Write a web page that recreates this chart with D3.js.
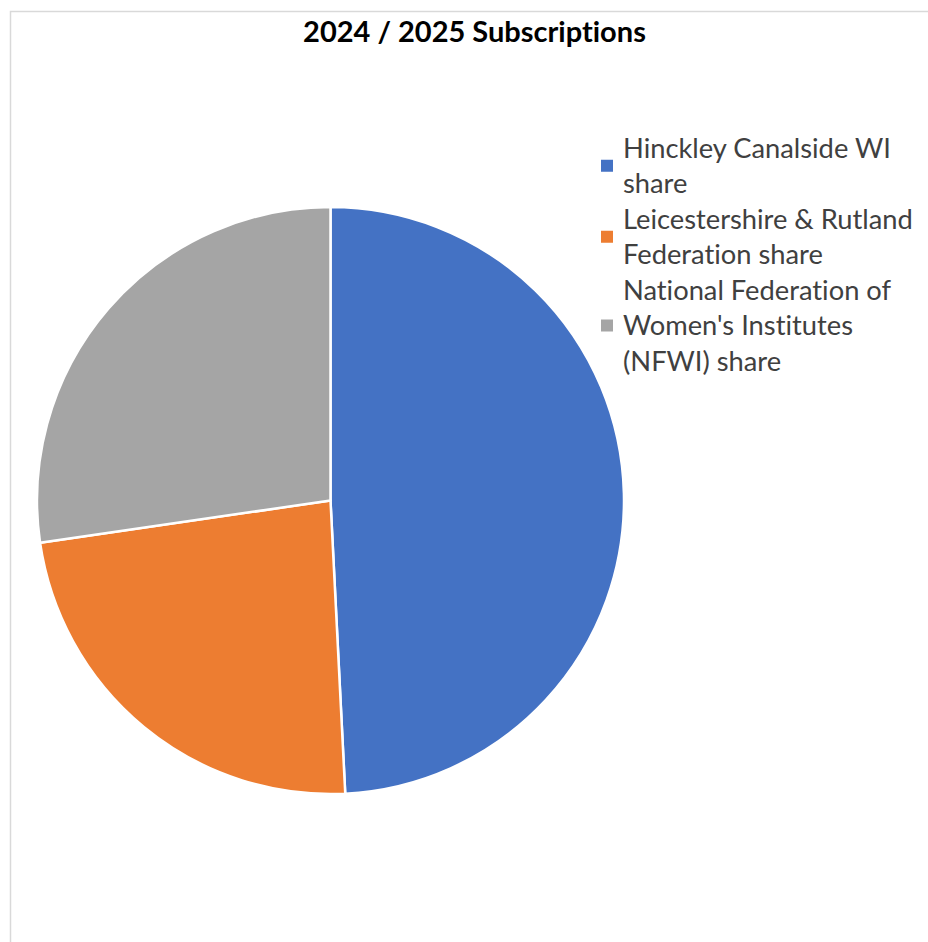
<!DOCTYPE html>
<html>
<head>
<meta charset="utf-8">
<script src="https://cdn.jsdelivr.net/npm/d3@7"></script>
<style>
  html, body { margin: 0; padding: 0; background: #fff; }
  svg { display: block; }
  text { font-variant-ligatures: none; font-feature-settings: "liga" 0, "clig" 0; }
</style>
</head>
<body>
<svg id="chart" width="928" height="942"></svg>
<script>
const title = "2024 / 2025 Subscriptions";
const categories = [
  "Hinckley Canalside WI share",
  "Leicestershire & Rutland Federation share",
  "National Federation of Women's Institutes (NFWI) share"
];
const legendLines = [
  ["Hinckley Canalside WI", "share"],
  ["Leicestershire & Rutland", "Federation share"],
  ["National Federation of", "Women's Institutes", "(NFWI) share"]
];
const values = [49.2, 23.5, 27.3];
const colors = ["#4472C4", "#ED7D31", "#A5A5A5"];

const svg = d3.select("#chart");
const W = 928, H = 942;
const fontFamily = "Lato, 'Open Sans', 'Liberation Sans', sans-serif";

// chart area border (top and left visible)
svg.append("path")
  .attr("d", `M10.5,${H} L10.5,11.5 L${W},11.5`)
  .attr("fill", "none")
  .attr("stroke", "#d9d9d9")
  .attr("stroke-width", 1.5);

// helper to fit a text to a target width
function fitSize(text, weight, targetWidth) {
  const t = svg.append("text").attr("font-family", fontFamily)
    .attr("font-weight", weight).attr("font-size", 100).text(text);
  const w = t.node().getComputedTextLength();
  t.remove();
  return 100 * targetWidth / w;
}

// title
const titleSize = fitSize(title, "bold", 343);
svg.append("text")
  .attr("x", 474.5).attr("y", 41.5)
  .attr("text-anchor", "middle")
  .attr("font-family", fontFamily)
  .attr("font-weight", "bold")
  .attr("font-size", titleSize)
  .attr("fill", "#000")
  .text(title);

// pie
const cx = 330.5, cy = 500.5, r = 293.5;
const pie = d3.pie().sort(null).value(d => d)(values);
const arc = d3.arc().innerRadius(0).outerRadius(r);
const color = d3.scaleOrdinal().domain(d3.range(values.length)).range(colors);

svg.append("g")
  .attr("transform", `translate(${cx},${cy})`)
  .selectAll("path")
  .data(pie)
  .join("path")
  .attr("d", arc)
  .attr("fill", (d, i) => color(i))
  .attr("stroke", "#fff")
  .attr("stroke-width", 2.5)
  .attr("stroke-linejoin", "round");

// legend
const legSize = fitSize("Leicestershire & Rutland", "normal", 290);
const lineH = 35.5;
const firstLineY = 148; // center of first line
const legend = svg.append("g");
let lineIdx = 0;
legendLines.forEach((lines, i) => {
  const startCenter = firstLineY + lineIdx * lineH;
  const midCenter = startCenter + (lines.length - 1) * lineH / 2;
  legend.append("rect")
    .attr("x", 601).attr("y", midCenter - 6)
    .attr("width", 12).attr("height", 12)
    .attr("fill", color(i));
  lines.forEach((ln, j) => {
    legend.append("text")
      .attr("x", 623)
      .attr("y", startCenter + j * lineH)
      .attr("dy", "0.35em")
      .attr("font-family", fontFamily)
      .attr("font-size", legSize)
      .attr("fill", "#404040")
      .text(ln);
  });
  lineIdx += lines.length;
});
</script>
</body>
</html>
